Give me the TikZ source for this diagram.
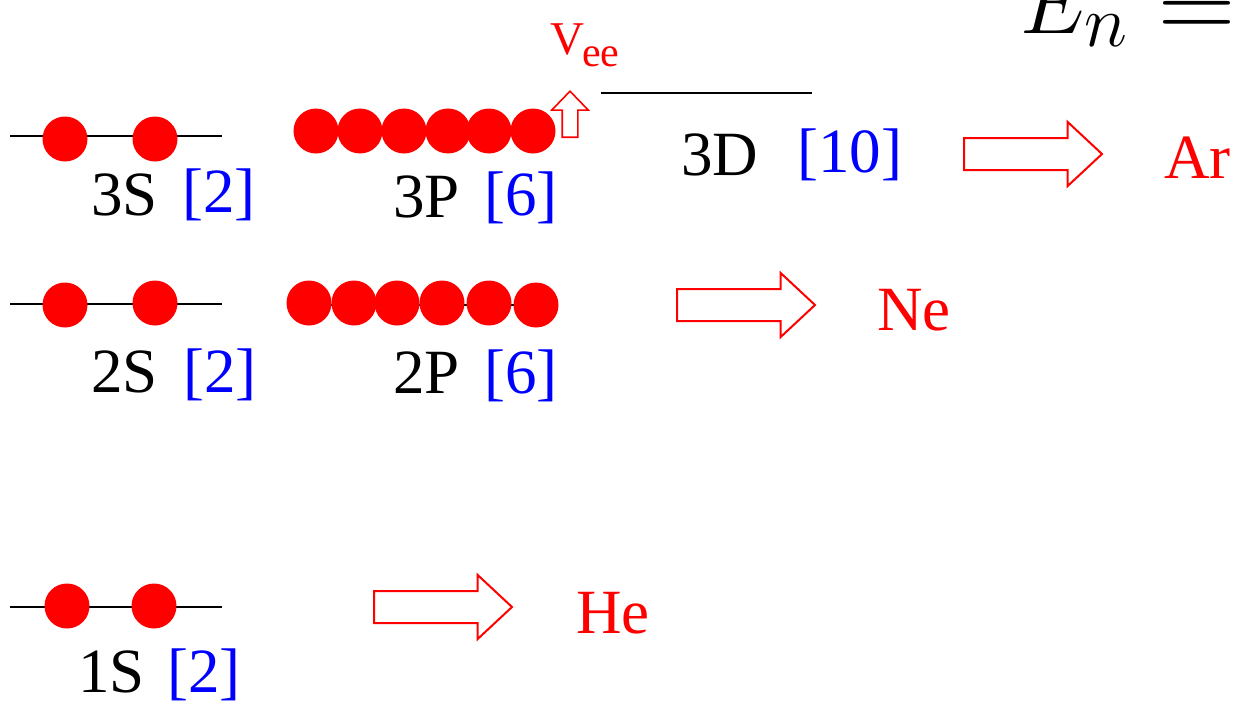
\documentclass[tikz,border=0pt]{standalone}
\usepackage[no-math]{fontspec}
\setmainfont{Liberation Serif}
\usepackage{graphicx}
\usepackage{xcolor}
\usepackage{tikz}
\usetikzlibrary{shapes.arrows}

\begin{document}
\begin{tikzpicture}[
    x=1pt, y=-1pt,
    dot/.style={circle, fill=red, inner sep=0pt, minimum size=45pt},
    level/.style={line width=1.1pt, black},
    lbl/.style={anchor=base west, inner sep=0pt, font=\fontsize{63}{70}\selectfont},
    cnt/.style={lbl, text=blue},
    elem/.style={lbl, text=red},
    mathbig/.style={anchor=base west, inner sep=0pt, font=\fontsize{24.88}{30}\selectfont},
    fat/.style={single arrow, draw=red, fill=white, line width=2pt, inner sep=0pt, text height=30pt, text depth=0pt, single arrow head extend=16pt, single arrow tip angle=86, minimum height=138pt, anchor=tail}
]
\useasboundingbox (0,0) rectangle (1233,704);
\clip (0,0) rectangle (1233,704);

% Energy
\node[mathbig] (energy) at (1020,33) {\scalebox{3.537}{$E_n$}};
\node[mathbig] (equal) at (1158,39) {\scalebox{4.3}{$=$}};

% Shell 3
\draw[level] (10,136) -- (222,136);
\node[dot] (s3a) at (65,139) {};
\node[dot] (s3b) at (155,139) {};
\node[lbl] (lab3s) at (91,215) {3S};
\node[cnt] (num3s) at (182,212) {[2]};

\draw[level] (316,135) -- (533,135);
\node[dot] (p3a) at (316,131) {};
\node[dot] (p3b) at (360,131) {};
\node[dot] (p3c) at (404,131) {};
\node[dot] (p3d) at (448,131) {};
\node[dot] (p3e) at (489,131) {};
\node[dot] (p3f) at (533,131) {};
\node[lbl] (lab3p) at (393,217) {3P};
\node[cnt] (num3p) at (484,215) {[6]};

% Vee
\node[fat, rotate=90, minimum height=46pt, text height=14pt, single arrow head extend=10.5pt, single arrow tip angle=88, line width=1.6pt] (vup) at (570,138) {};
\node[anchor=base west, inner sep=0pt, text=red, font=\fontsize{47}{50}\selectfont] (vee) at (550,54) {V};
\node[anchor=base west, inner sep=0pt, text=red, font=\fontsize{42}{50}\selectfont] (veesub) at (582,66) {ee};

\draw[level] (601,93) -- (812,93);
\node[lbl] (lab3d) at (681,175) {3D};
\node[cnt] (num3d) at (797,172) {[10]};
\node[fat] (toar) at (963,154) {};
\node[elem] (ar) at (1164,178) {Ar};

% Shell 2
\draw[level] (10,304) -- (222,304);
\node[dot] (s2a) at (65,305) {};
\node[dot] (s2b) at (155,303) {};
\node[lbl] (lab2s) at (91,392) {2S};
\node[cnt] (num2s) at (183,392) {[2]};

\draw[level] (309,305) -- (536,305);
\node[dot] (p2a) at (309,303) {};
\node[dot] (p2b) at (354,303) {};
\node[dot] (p2c) at (397,303) {};
\node[dot] (p2d) at (442,303) {};
\node[dot] (p2e) at (489,303) {};
\node[dot] (p2f) at (536,305) {};
\node[lbl] (lab2p) at (393,393) {2P};
\node[cnt] (num2p) at (484,393) {[6]};

\node[fat] (tone) at (676,305) {};
\node[elem] (ne) at (877,330) {Ne};

% Shell 1
\draw[level] (10,607) -- (222,607);
\node[dot] (s1a) at (67,606) {};
\node[dot] (s1b) at (154,606) {};
\node[lbl] (lab1s) at (78,692) {1S};
\node[cnt] (num1s) at (167,692) {[2]};

\node[fat] (tohe) at (373,607) {};
\node[elem] (he) at (576,633) {He};

\end{tikzpicture}
\end{document}
